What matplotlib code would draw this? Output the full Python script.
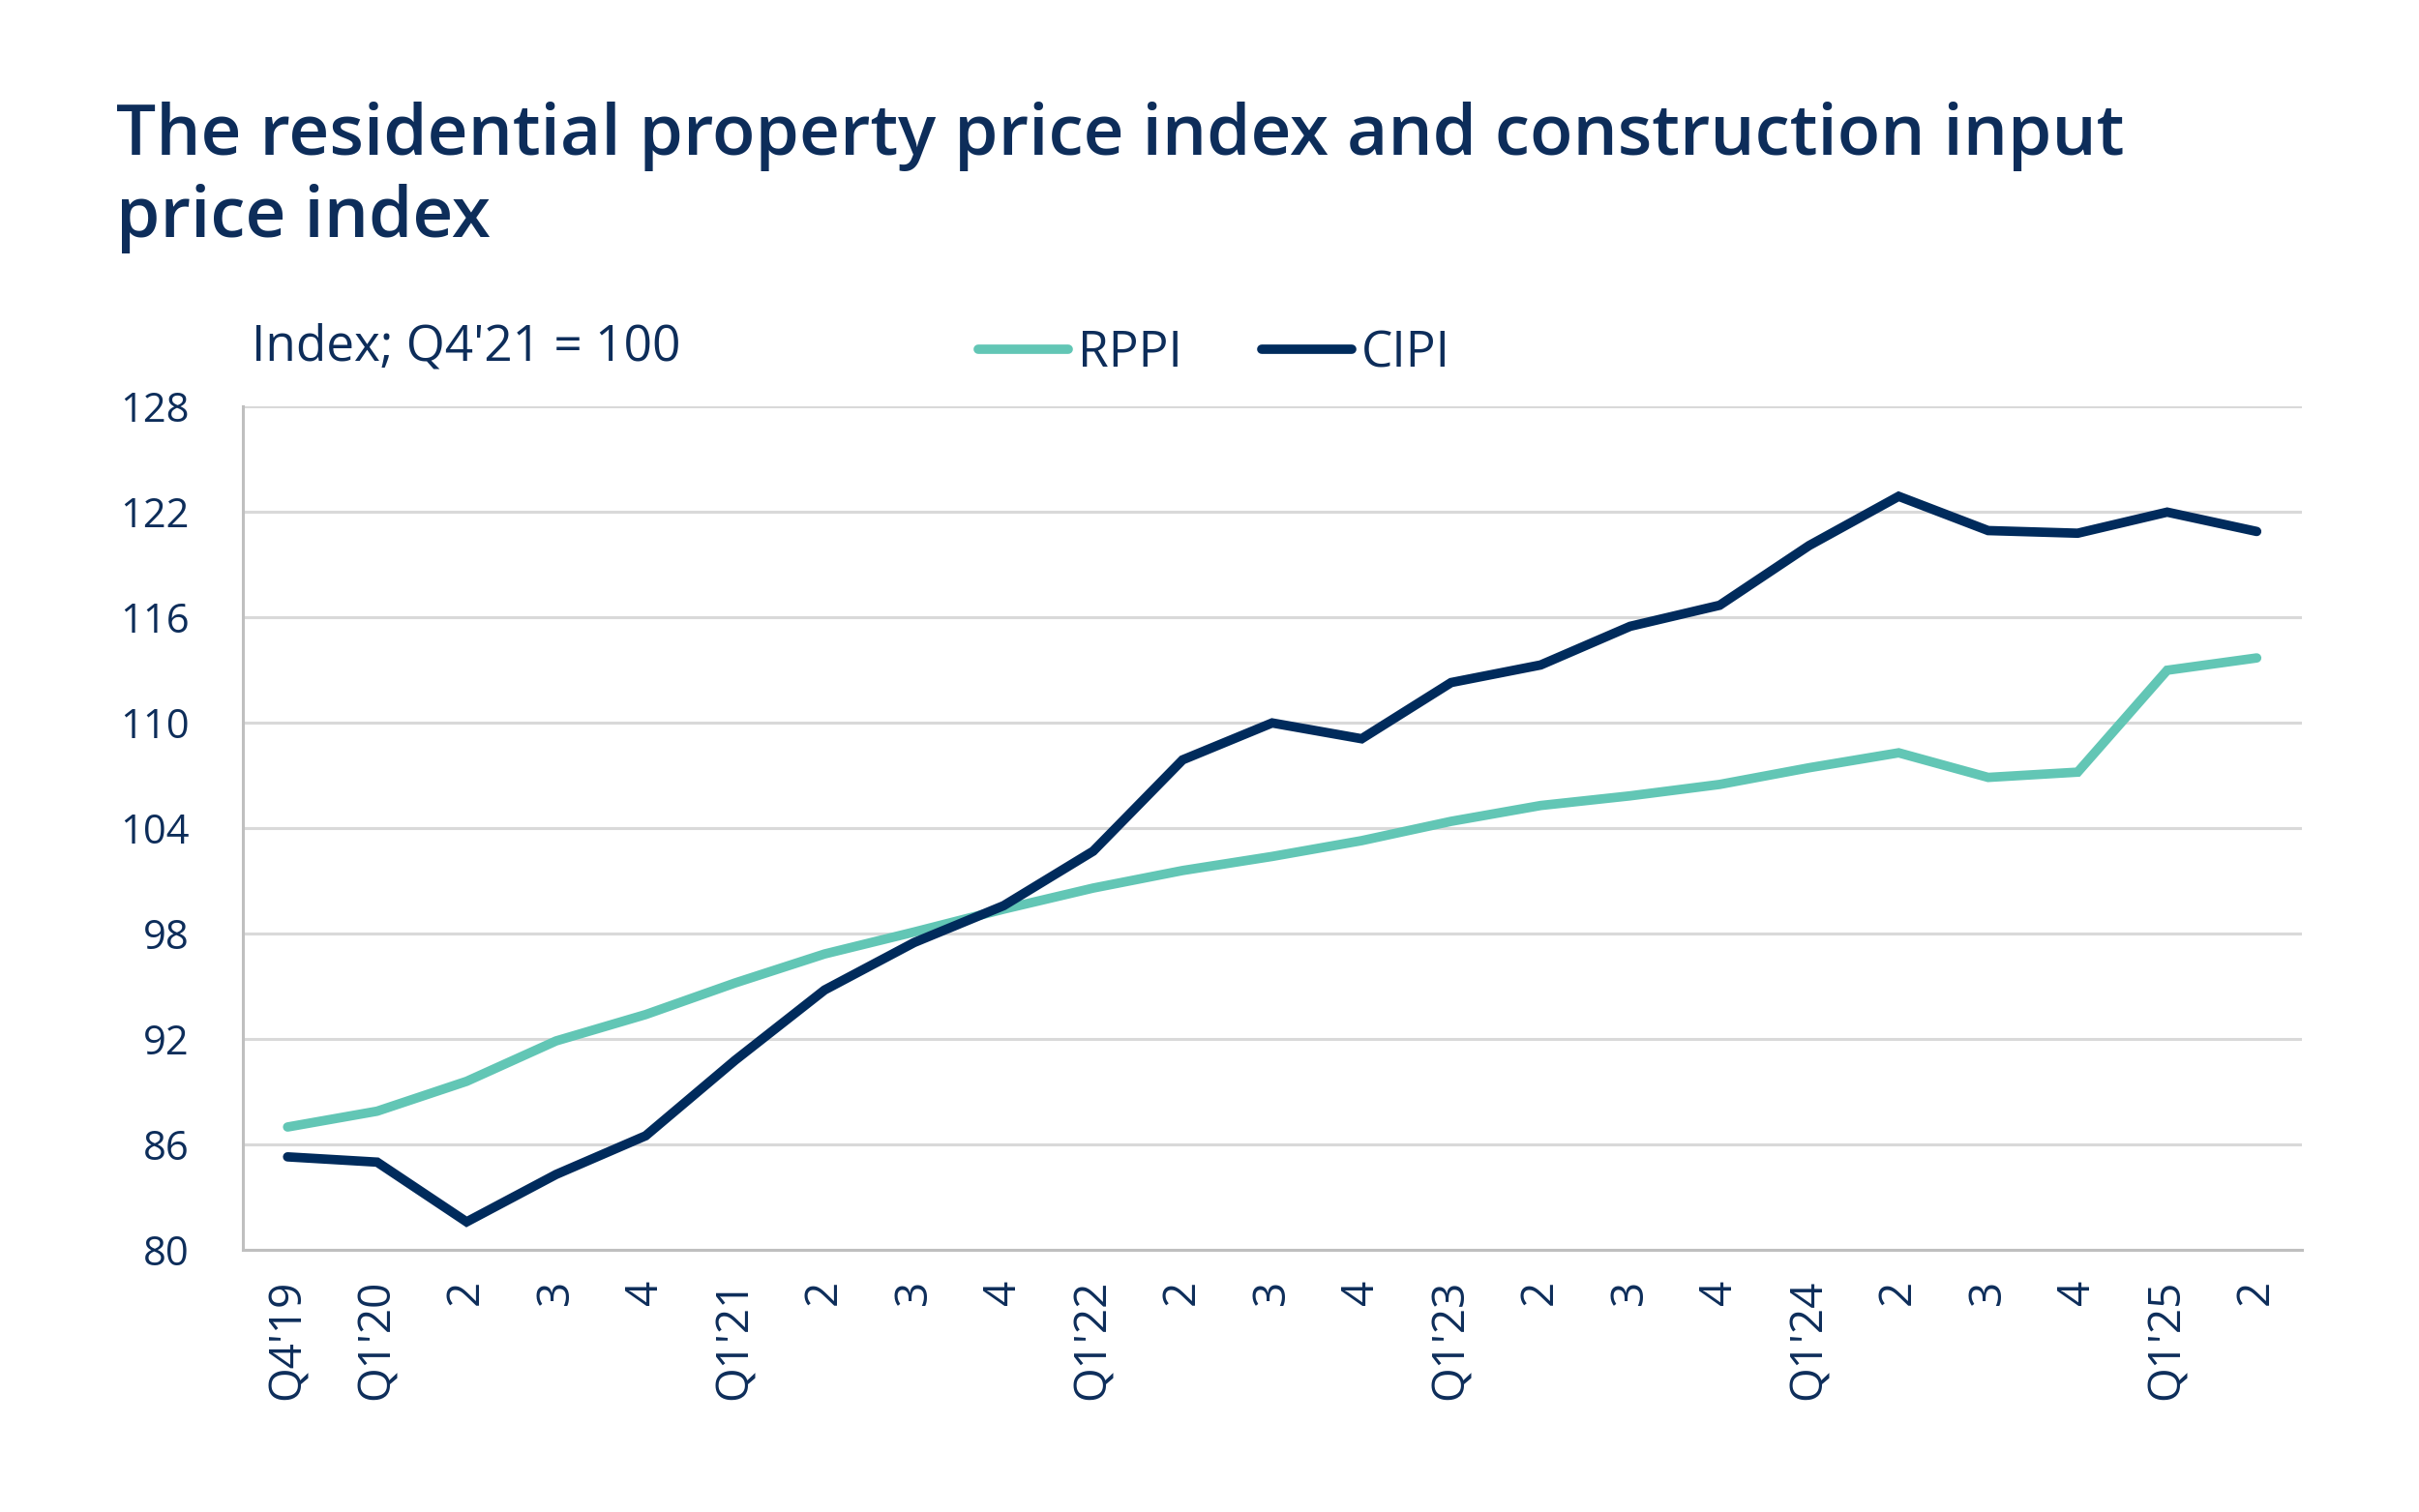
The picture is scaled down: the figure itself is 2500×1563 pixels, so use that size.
import matplotlib
matplotlib.use("Agg")
import matplotlib.pyplot as plt
from matplotlib.lines import Line2D

# quarters Q4'19 .. Q2'25
quarters = ["Q4'19", "Q1'20", "2", "3", "4",
            "Q1'21", "2", "3", "4",
            "Q1'22", "2", "3", "4",
            "Q1'23", "2", "3", "4",
            "Q1'24", "2", "3", "4",
            "Q1'25", "2"]

rppi = [87.0, 87.9, 89.6, 91.9, 93.4, 95.2, 96.85, 98.1, 99.4,
        100.6, 101.6, 102.4, 103.3, 104.4, 105.3, 105.85, 106.5,
        107.45, 108.3, 106.9, 107.2, 113.0, 113.7]

cipi = [85.3, 85.0, 81.6, 84.3, 86.5, 90.8, 94.8, 97.5, 99.6,
        102.7, 107.9, 110.0, 109.1, 112.3, 113.3, 115.5, 116.7,
        120.1, 122.9, 120.95, 120.8, 122.0, 120.9]

y_ticks = [80, 86, 92, 98, 104, 110, 116, 122, 128]

NAVY = "#002B5C"
TEAL = "#62C6B5"
TEXT = "#0D2D5A"
GRID = "#D9D9D9"

plt.rcParams['font.family'] = ['Open Sans', 'DejaVu Sans']

fig = plt.figure(figsize=(25, 15.63), dpi=100)
ax = fig.add_axes([0.1004, 0.1733, 0.851, 0.5577])

x = list(range(len(quarters)))
ax.plot(x, rppi, color=TEAL, lw=7, solid_capstyle='round', solid_joinstyle='miter', zorder=3)
ax.plot(x, cipi, color=NAVY, lw=7, solid_capstyle='round', solid_joinstyle='miter', zorder=4)

ax.set_xlim(-0.5, len(quarters) - 0.5)
ax.set_ylim(80, 128)
ax.set_yticks(y_ticks)
ax.set_yticklabels([str(v) for v in y_ticks])
ax.set_xticks(x)
ax.set_xticklabels(quarters, rotation=90, va='top', ha='center')

ax.tick_params(axis='y', length=0, pad=40, labelsize=30, labelcolor=TEXT)
ax.tick_params(axis='x', length=0, pad=22, labelsize=33, labelcolor=TEXT)

ax.yaxis.grid(True, color=GRID, lw=2.2, zorder=0)
ax.set_axisbelow(True)
for s in ['top', 'right']:
    ax.spines[s].set_visible(False)
for s in ['left', 'bottom']:
    ax.spines[s].set_color('#BFBFBF')
    ax.spines[s].set_linewidth(2.2)

# title (two lines)
fig.text(0.048, 0.8974, "The residential property price index and construction input",
         fontsize=52.5, fontweight='semibold', color=TEXT, ha='left', va='baseline')
fig.text(0.048, 0.8430, "price index",
         fontsize=52.5, fontweight='semibold', color=TEXT, ha='left', va='baseline')

# unit label
fig.text(0.104, 0.770, "Index; Q4'21 = 100", fontsize=37,
         color=TEXT, ha='left', va='center')

# legend
handles = [Line2D([0], [0], color=TEAL, lw=7, solid_capstyle='round'),
           Line2D([0], [0], color=NAVY, lw=7, solid_capstyle='round')]
leg = fig.legend(handles, ["RPPI", "CIPI"], loc='center left', bbox_to_anchor=(0.386, 0.766),
                 ncol=2, frameon=False, fontsize=37, handlelength=1.8, handletextpad=0.2,
                 columnspacing=1.6)
for t in leg.get_texts():
    t.set_color(TEXT)

fig.savefig("out.png", dpi=100, facecolor='white')
